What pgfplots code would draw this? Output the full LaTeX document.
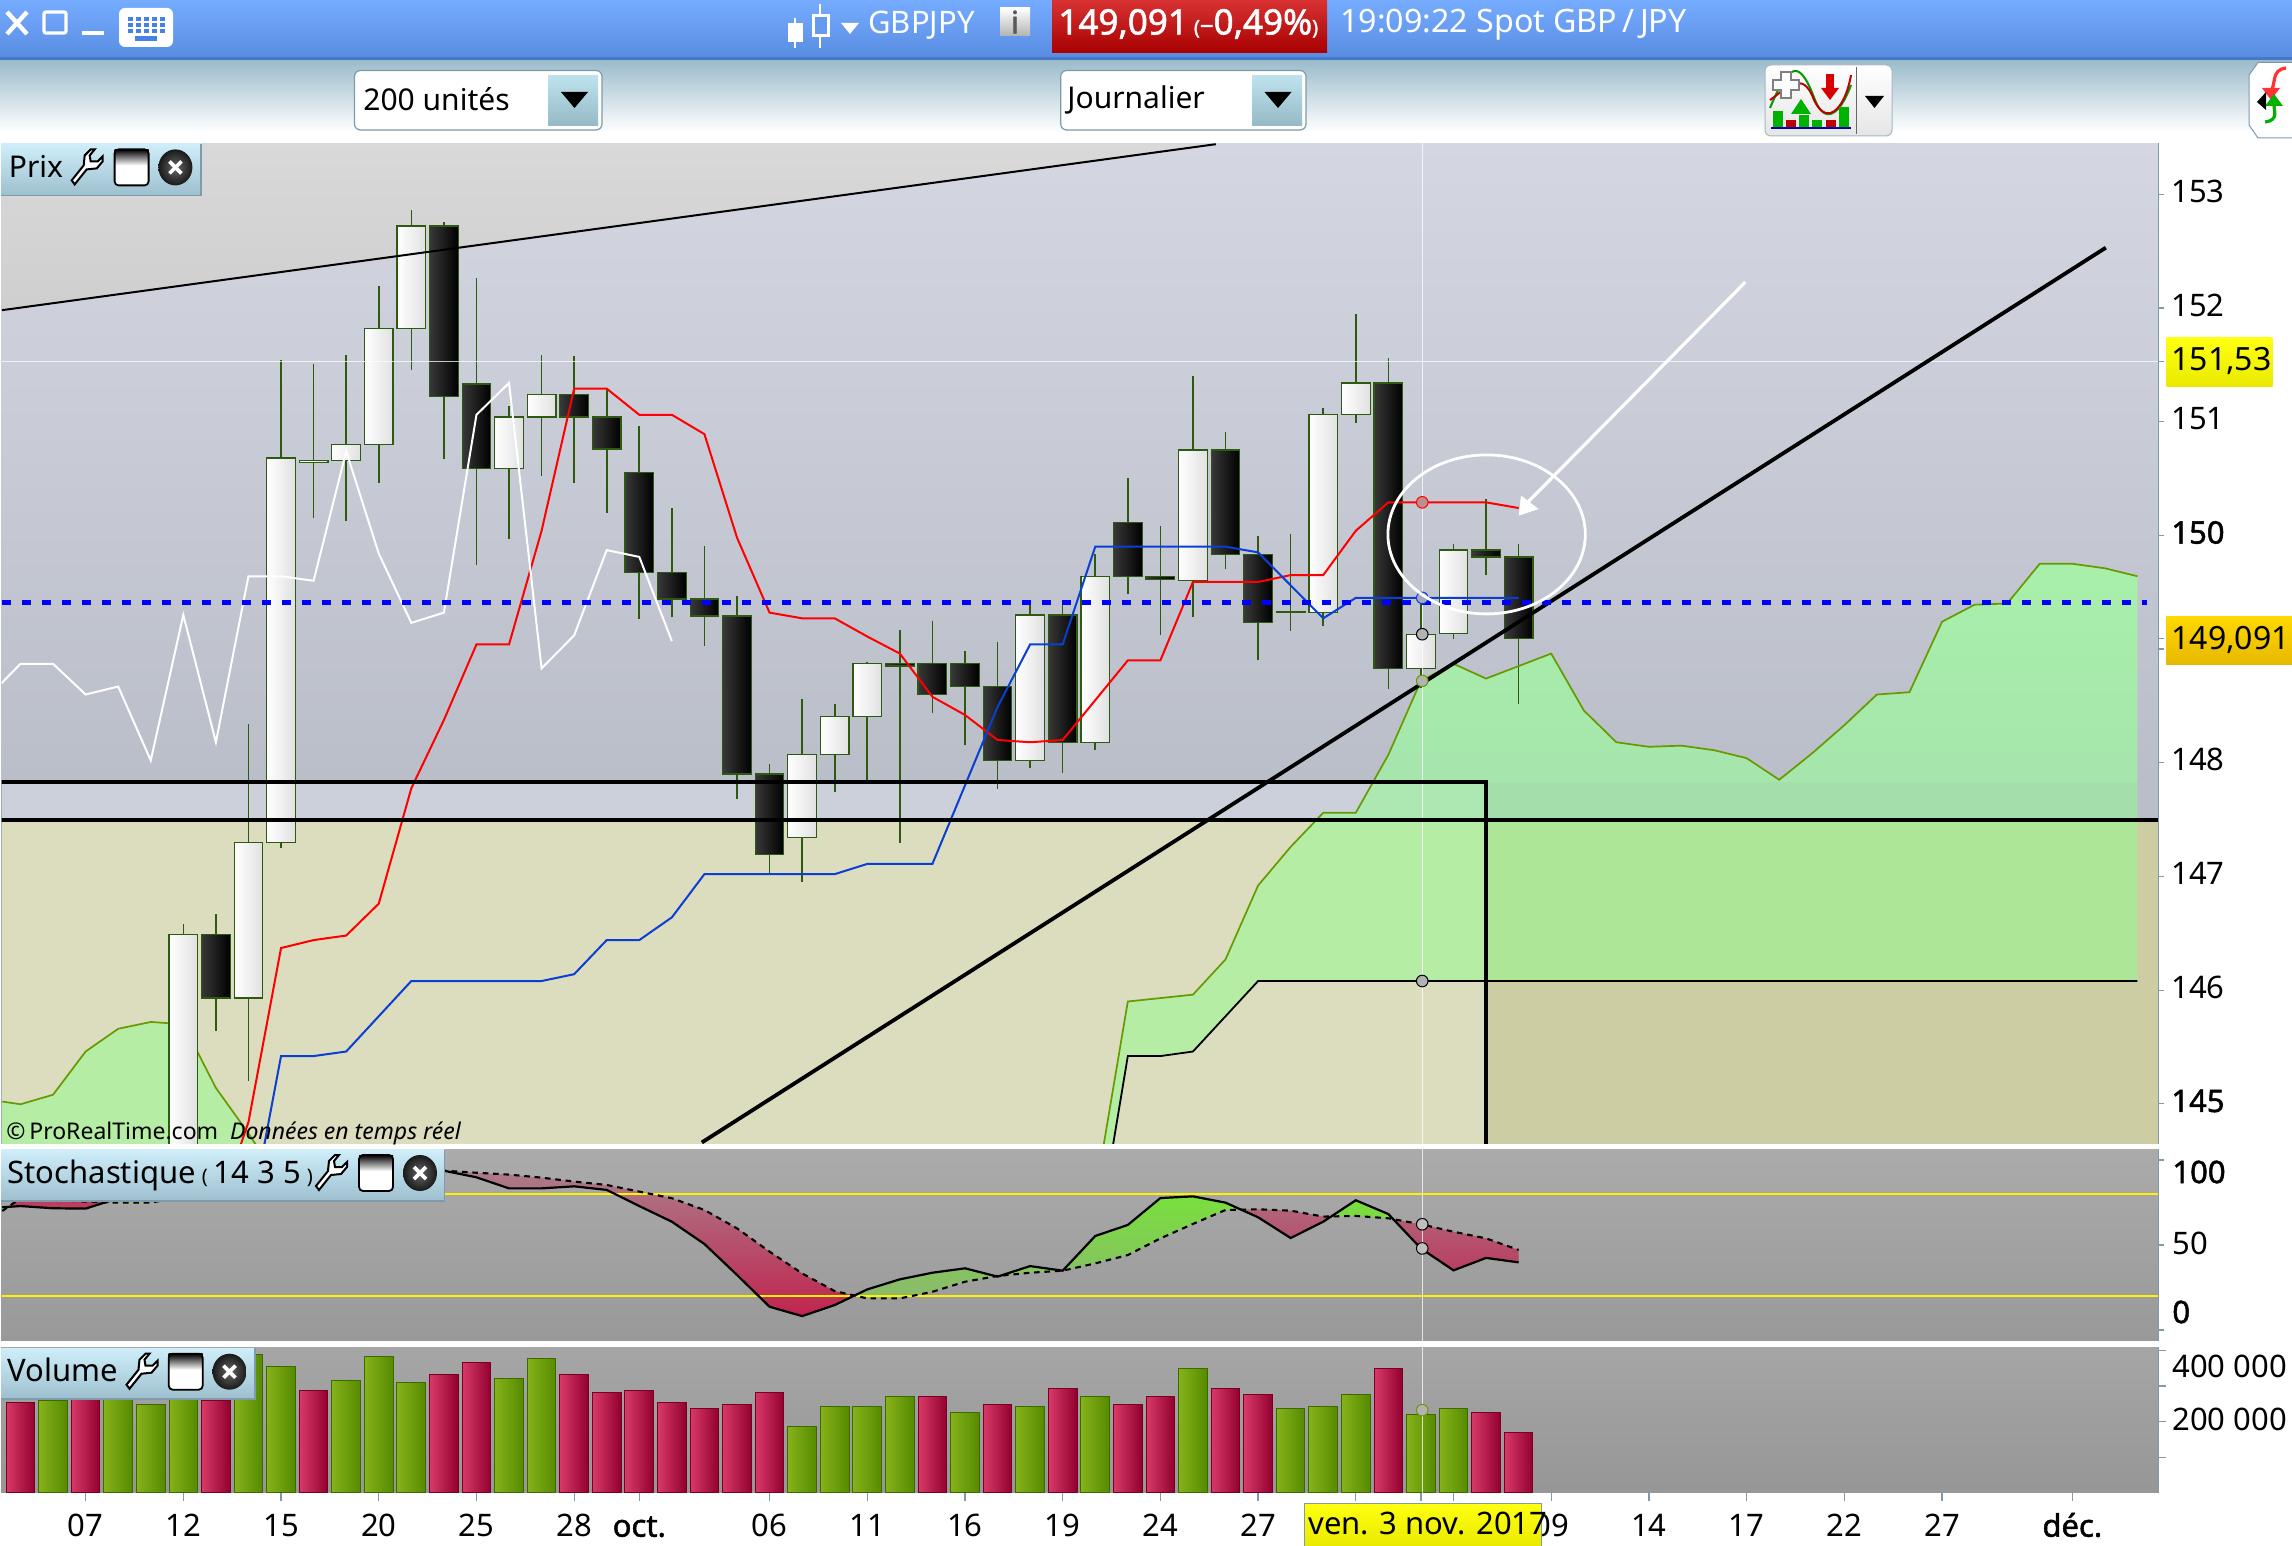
\documentclass[border=0pt]{standalone}
\usepackage{fontspec}
\setmainfont{Noto Sans}
\newfontfamily\fb{Noto Sans}[FakeBold=1.6]
\usepackage{pgfplots}
\pgfplotsset{compat=1.18}
\definecolor{wick}{HTML}{2D5A10}
\definecolor{frame}{HTML}{7F9AAB}
\definecolor{olive}{HTML}{669A00}
\definecolor{kij}{HTML}{0A3FD4}
\definecolor{bgtop}{HTML}{D4D7E1}
\definecolor{bgmid}{HTML}{BABEC9}
\definecolor{band}{HTML}{CCD0DA}
\definecolor{beigeL}{HTML}{DCDCBE}
\definecolor{beigeR}{HTML}{CDCDA3}
\definecolor{cloud}{HTML}{90FF8C}
\definecolor{cloudT}{RGB}{168,240,170}\definecolor{cloudB}{RGB}{166,229,172}
\definecolor{vgl}{HTML}{86B21A}\definecolor{vgr}{HTML}{558A00}\definecolor{vgb}{HTML}{3A6A00}
\definecolor{vrl}{HTML}{D83A68}\definecolor{vrr}{HTML}{92002F}\definecolor{vrb}{HTML}{7A0020}
\definecolor{rA}{RGB}{172,124,138}\definecolor{rB}{RGB}{192,36,78}
\definecolor{rC}{RGB}{177,100,122}\definecolor{rD}{RGB}{181,83,110}
\definecolor{rE}{RGB}{179,94,118}\definecolor{rF}{RGB}{186,62,96}
\definecolor{gA}{RGB}{120,224,60}\definecolor{gB}{RGB}{140,184,110}\definecolor{gC}{RGB}{125,214,70}
\definecolor{hTop}{RGB}{118,172,255}\definecolor{hBot}{RGB}{88,140,225}\definecolor{hLine}{RGB}{70,120,200}
\definecolor{tbTop}{RGB}{156,188,203}\definecolor{kbd}{RGB}{70,130,230}\definecolor{cInner}{RGB}{100,155,240}
\definecolor{redT}{RGB}{216,50,50}\definecolor{redB}{RGB}{168,0,0}
\definecolor{ddT}{RGB}{190,225,238}\definecolor{ddB}{RGB}{150,185,198}
\definecolor{tagT}{RGB}{207,238,250}\definecolor{tagB}{RGB}{157,191,206}
\definecolor{yelT}{RGB}{255,255,16}\definecolor{yelB}{RGB}{234,234,0}
\definecolor{ambT}{RGB}{255,217,0}\definecolor{ambB}{RGB}{232,184,0}
\newcommand{\wc}[5]{% i low high bottom top
  \addplot[wick,line width=.8pt] coordinates {(#1,#2)(#1,#3)};
  \pgfmathsetmacro\xl{#1-0.44}\pgfmathsetmacro\xr{#1+0.44}%
  \edef\tmp{\noexpand\addplot[draw=wick,line width=.6pt,left color=white,right color=black!12] coordinates {(\xl,#4)(\xl,#5)(\xr,#5)(\xr,#4)} --cycle;}\tmp}
\newcommand{\bc}[5]{%
  \addplot[wick,line width=.8pt] coordinates {(#1,#2)(#1,#3)};
  \pgfmathsetmacro\xl{#1-0.44}\pgfmathsetmacro\xr{#1+0.44}%
  \edef\tmp{\noexpand\addplot[draw=wick,line width=.6pt,left color=black!78,right color=black] coordinates {(\xl,#4)(\xl,#5)(\xr,#5)(\xr,#4)} --cycle;}\tmp}
\newcommand{\vg}[2]{\pgfmathsetmacro\xl{#1-0.44}\pgfmathsetmacro\xr{#1+0.44}%
  \edef\tmp{\noexpand\addplot[draw=vgb,line width=.5pt,left color=vgl,right color=vgr] coordinates {(\xl,0)(\xl,#2)(\xr,#2)(\xr,0)} --cycle;}\tmp}
\newcommand{\vr}[2]{\pgfmathsetmacro\xl{#1-0.44}\pgfmathsetmacro\xr{#1+0.44}%
  \edef\tmp{\noexpand\addplot[draw=vrb,line width=.5pt,left color=vrl,right color=vrr] coordinates {(\xl,0)(\xl,#2)(\xr,#2)(\xr,0)} --cycle;}\tmp}
\newcommand{\tagicons}[4]{% wrench x, window x, close x, y
  \begin{scope}[shift={(#1,#4)}]
    \draw[fill=white,draw=black,line width=1pt] (-13,17)--(-16,13)--(-4,-2)--(-3,-12)--(3,-18)--(7,-18)--(2,-12)--(3,-6)--(10,-6)--(15,-11)--(15,-6)--(9,1)--(-1,2)--cycle;
  \end{scope}
  \begin{scope}[shift={(#2,#4)}]
    \fill[white,rounded corners=2pt] (-17,-18) rectangle (17,18);
    \shade[top color=black,bottom color=white] (-17,-18) rectangle (17,-2);
    \draw[black,line width=.9pt,rounded corners=2pt] (-17,-18) rectangle (17,18);
  \end{scope}
  \begin{scope}[shift={(#3,#4)}]
    \shade[inner color=black!60,outer color=black!90] (0,0) circle [x radius=17,y radius=18];
    \draw[white,line width=1.8pt] (-6,-6)--(6,6) (-6,6)--(6,-6);
  \end{scope}}
\newcommand{\fsz}{\fontsize{15.5}{18}\selectfont}
\newcommand{\fbg}{\fontsize{16}{18}\selectfont}
\begin{document}
\begin{tikzpicture}
\path[use as bounding box] (0,0) rectangle (1146pt,-773pt);
%---------- PRICE
\begin{axis}[at={(0.75pt,-571.75pt)},anchor=south west,scale only axis,width=1078.25pt,height=500pt,
  xmin=-0.583,xmax=65.63,ymin=144.651,ymax=153.446,
  axis line style={frame,line width=.6pt},
  xtick=\empty,ytick pos=right,yticklabel pos=right,
  ytick={145,146,147,148,149,150,151,152,153},
  yticklabels={{\fb 145},146,147,148,,{\fb 150},151,152,153},
  extra y ticks={149.091,151.53},extra y tick labels={},
  tick align=outside,major tick length=3pt,tick style={frame,line width=.6pt},
  tick label style={font=\fsz,text=black},
  yticklabel style={anchor=west,xshift=3.5pt,yshift=1.4pt,inner sep=0pt},
  clip=true]
% background zones
\addplot[draw=none,top color=bgtop,bottom color=bgmid] coordinates {(-1,153.446)(66,153.446)(66,147.83)(-1,147.83)} --cycle;
\addplot[draw=none,fill=band] coordinates {(-1,147.83)(45,147.83)(45,147.497)(-1,147.497)} --cycle;
\addplot[draw=none,fill=bgmid] coordinates {(45,147.83)(66,147.83)(66,147.497)(45,147.497)} --cycle;
\addplot[draw=none,fill=beigeL] coordinates {(-1,147.497)(45,147.497)(45,144.6)(-1,144.6)} --cycle;
\addplot[draw=none,fill=beigeR] coordinates {(45,147.497)(66,147.497)(66,144.6)(45,144.6)} --cycle;
\addplot[draw=none,top color=black!15,bottom color=black!19] coordinates {(-1,153.446)(36.7,153.446)(36.7,153.44)(-0.57,151.98)(-1,151.97)} --cycle;
% cloud
\addplot[draw=none,fill=cloud,fill opacity=.5] coordinates {(-0.56,145.02)(0,144.996)(1,145.08)(2,145.46)(3,145.66)(4,145.72)(5,145.70)(6,145.14)(7,144.74)(8,144.3)(-0.56,144.3)} --cycle;
\addplot[olive,line width=.85pt] coordinates {(-0.56,145.02)(0,144.996)(1,145.08)(2,145.46)(3,145.66)(4,145.72)(5,145.70)(6,145.14)(7,144.74)(8,144.3)};
\addplot[draw=none,fill=cloud,fill opacity=.5] coordinates {(33,144.2)(34,145.90)(35,145.93)(36,145.96)(37,146.27)(38,146.92)(39,147.26)(40,147.56)(41,147.56)(42,148.07)(43,148.72)(44,148.87)(45,148.74)(46,148.85)(47,148.96)(48,148.46)(49,148.18)(50,148.14)(51,148.15)(52,148.11)(53,148.04)(54,147.85)(55,148.08)(56,148.33)(57,148.60)(58,148.62)(59,149.24)(60,149.39)(61,149.40)(62,149.75)(63,149.75)(64,149.71)(65,149.64)(65,146.08)(38,146.08)(37,145.77)(36,145.46)(35,145.42)(34,145.42)(33,143.7)} --cycle;
\addplot[draw=none,top color=cloudT,bottom color=cloudB] coordinates {(41.53,147.83)(42,148.07)(43,148.72)(44,148.87)(45,148.74)(46,148.85)(47,148.96)(48,148.46)(49,148.18)(50,148.14)(51,148.15)(52,148.11)(53,148.04)(54,147.85)(55,148.08)(56,148.33)(57,148.60)(58,148.62)(59,149.24)(60,149.39)(61,149.40)(62,149.75)(63,149.75)(64,149.71)(65,149.64)(65,147.83)} --cycle;
% candles: i low high bottom top
\wc{5}{144.3}{146.58}{144.3}{146.49}
\bc{6}{145.64}{146.67}{145.93}{146.49}
\wc{7}{145.20}{148.34}{145.93}{147.30}
\wc{8}{147.25}{151.54}{147.30}{150.68}
\wc{9}{150.15}{151.51}{150.64}{150.66}
\wc{10}{150.13}{151.59}{150.66}{150.80}
\wc{11}{150.46}{152.19}{150.80}{151.82}
\wc{12}{151.45}{152.86}{151.82}{152.72}
\bc{13}{150.67}{152.76}{151.22}{152.72}
\bc{14}{149.74}{152.26}{150.59}{151.33}
\wc{15}{149.97}{151.14}{150.59}{151.04}
\wc{16}{150.52}{151.59}{151.04}{151.24}
\bc{17}{150.46}{151.58}{151.04}{151.24}
\bc{18}{150.20}{151.29}{150.76}{151.04}
\bc{19}{149.26}{150.96}{149.67}{150.55}
\bc{20}{149.28}{150.24}{149.44}{149.67}
\bc{21}{149.03}{149.91}{149.29}{149.44}
\bc{22}{147.68}{149.47}{147.90}{149.29}
\bc{23}{147.03}{147.99}{147.19}{147.90}
\wc{24}{146.95}{148.56}{147.34}{148.07}
\wc{25}{147.74}{148.52}{148.07}{148.41}
\wc{26}{147.85}{148.89}{148.41}{148.87}
\bc{27}{147.29}{149.17}{148.85}{148.87}
\bc{28}{148.44}{149.25}{148.60}{148.87}
\bc{29}{148.16}{148.98}{148.67}{148.87}
\bc{30}{147.77}{149.06}{148.02}{148.67}
\wc{31}{147.95}{149.43}{148.02}{149.30}
\bc{32}{147.91}{149.43}{148.18}{149.30}
\wc{33}{148.11}{149.84}{148.18}{149.64}
\bc{34}{149.48}{150.50}{149.64}{150.11}
\bc{35}{149.12}{150.08}{149.61}{149.64}
\wc{36}{149.28}{151.40}{149.60}{150.75}
\bc{37}{149.70}{150.91}{149.83}{150.75}
\bc{38}{148.90}{149.99}{149.23}{149.83}
\bc{39}{149.16}{150.01}{149.32}{149.33}
\wc{40}{149.20}{151.12}{149.32}{151.06}
\wc{41}{150.99}{151.95}{151.06}{151.34}
\bc{42}{148.65}{151.56}{148.83}{151.34}
\wc{43}{148.66}{149.45}{148.83}{149.13}
\wc{44}{149.09}{149.92}{149.14}{149.87}
\bc{45}{149.65}{150.32}{149.81}{149.87}
\bc{46}{148.52}{149.92}{149.091}{149.81}
% cloud edges
\addplot[olive,line width=.85pt] coordinates {(33,144.2)(34,145.90)(35,145.93)(36,145.96)(37,146.27)(38,146.92)(39,147.26)(40,147.56)(41,147.56)(42,148.07)(43,148.72)(44,148.87)(45,148.74)(46,148.85)(47,148.96)(48,148.46)(49,148.18)(50,148.14)(51,148.15)(52,148.11)(53,148.04)(54,147.85)(55,148.08)(56,148.33)(57,148.60)(58,148.62)(59,149.24)(60,149.39)(61,149.40)(62,149.75)(63,149.75)(64,149.71)(65,149.64)};
\addplot[black,line width=.9pt] coordinates {(33,143.7)(34,145.42)(35,145.42)(36,145.46)(37,145.77)(38,146.08)(65,146.08)};
% tenkan
\addplot[red,line width=1pt] coordinates {(6,144)(7,144.84)(8,146.37)(9,146.44)(10,146.48)(11,146.76)(12,147.775)(13,148.375)(14,149.04)(15,149.04)(16,150.04)(17,151.29)(18,151.29)(19,151.06)(20,151.06)(21,150.89)(22,149.98)(23,149.32)(24,149.27)(25,149.27)(26,149.11)(27,148.96)(28,148.58)(29,148.42)(30,148.20)(31,148.18)(32,148.20)(33,148.55)(34,148.90)(35,148.90)(36,149.59)(37,149.59)(38,149.59)(39,149.65)(40,149.65)(41,150.04)(42,150.29)(43,150.29)(44,150.29)(45,150.29)(46,150.24)};
% kijun
\addplot[kij,line width=1pt] coordinates {(7,143.9)(8,145.42)(9,145.42)(10,145.46)(11,145.77)(12,146.08)(13,146.08)(14,146.08)(15,146.08)(16,146.08)(17,146.14)(18,146.44)(19,146.44)(20,146.64)(21,147.02)(22,147.02)(23,147.02)(24,147.02)(25,147.02)(26,147.11)(27,147.11)(28,147.11)(29,147.80)(30,148.49)(31,149.04)(32,149.04)(33,149.90)(34,149.90)(35,149.90)(36,149.90)(37,149.90)(38,149.85)(39,149.56)(40,149.27)(41,149.45)(42,149.45)(43,149.45)(44,149.45)(45,149.45)(46,149.45)};
% chikou
\addplot[white,line width=1pt] coordinates {(-0.58,148.70)(0,148.87)(1,148.87)(2,148.60)(3,148.67)(4,148.02)(5,149.30)(6,148.18)(7,149.64)(8,149.64)(9,149.60)(10,150.74)(11,149.84)(12,149.23)(13,149.32)(14,151.06)(15,151.34)(16,148.83)(17,149.12)(18,149.87)(19,149.81)(20,149.07)};
% crosshair
\addplot[white,opacity=.75,line width=.7pt] coordinates {(-1,151.53)(66,151.53)};
\addplot[white,opacity=.75,line width=.7pt] coordinates {(43.04,144)(43.04,154)};
% drawn lines
\addplot[black,line width=1pt] coordinates {(-0.57,151.98)(36.7,153.44)};
\addplot[black,line width=1.9pt] coordinates {(20.92,144.66)(64.03,152.53)};
\addplot[black,line width=1.8pt] coordinates {(-1,147.83)(45,147.83)(45,144.6)};
\addplot[black,line width=1.8pt] coordinates {(-1,147.497)(66,147.497)};
\addplot[blue,line width=2.2pt,dash pattern=on 4.5pt off 5.5pt] coordinates {(-0.58,149.41)(65.3,149.41)};
% cursor marks
\addplot[only marks,mark=*,mark size=2.9pt,mark options={draw=red,fill=red!25!gray!70,line width=.5pt}] coordinates {(43.04,150.29)};
\addplot[only marks,mark=*,mark size=2.9pt,mark options={draw=kij,fill=blue!15!gray!60,line width=.5pt}] coordinates {(43.04,149.45)};
\addplot[only marks,mark=*,mark size=2.9pt,mark options={draw=black,fill=gray!60,line width=.5pt}] coordinates {(43.04,149.13)(43.04,146.08)};
\addplot[only marks,mark=*,mark size=2.9pt,mark options={draw=olive,fill=gray!60,line width=.5pt}] coordinates {(43.04,148.72)};
\end{axis}
%---------- STOCHASTIC
\begin{axis}[at={(0.75pt,-670.35pt)},anchor=south west,scale only axis,width=1078.25pt,height=95.7pt,
  xmin=-0.583,xmax=65.63,ymin=-6.27,ymax=106.27,
  axis line style={frame,line width=.6pt},
  xtick=\empty,ytick pos=right,ytick={0,50,100},yticklabel=\empty,
  tick align=outside,major tick length=3pt,tick style={frame,line width=.6pt},clip=true]
\addplot[draw=none,top color=black!33,bottom color=black!40] coordinates {(-1,-7)(66,-7)(66,107)(-1,107)} --cycle;
\addplot[draw=none,top color=rA,bottom color=rB] coordinates {(13,93.7)(14,89.8)(15,83.3)(16,83.3)(17,84.5)(18,82.4)(19,72.9)(20,63.7)(21,50.6)(22,32.4)(23,13.7)(24,8.2)(25,14.7)(25.61,20.3)(25,22.9)(24,33.3)(23,46.1)(22,59.8)(21,70.6)(20,77.5)(19,81.4)(18,85.3)(17,87.3)(16,89.6)(15,91.4)(14,92.5)} --cycle;
\addplot[draw=none,top color=gA,bottom color=gB] coordinates {(25.61,20.3)(26,23.9)(27,29.8)(28,33.7)(29,36.3)(30,31.4)(31,37.6)(32,34.9)(33,55.3)(34,61.8)(35,77.6)(36,78.6)(37,74.9)(37.48,70.8)(37,70.6)(36,62.4)(35,53.9)(34,44.1)(33,39.2)(32,34.9)(31,33.7)(30,31.8)(29,28.4)(28,22.5)(27,18.6)(26,18.6)} --cycle;
\addplot[draw=none,top color=rC,bottom color=rD] coordinates {(37.48,70.8)(38,66.3)(39,54.1)(40,63.7)(40.24,66.7)(40,66.7)(39,70.2)(38,71)} --cycle;
\addplot[draw=none,top color=gA,bottom color=gC] coordinates {(40.24,66.7)(41,76.3)(42,68.2)(42.15,65.2)(42,65.7)(41,67.1)} --cycle;
\addplot[draw=none,top color=rE,bottom color=rF] coordinates {(42.15,65.2)(43,48)(44,35.1)(45,42.4)(46,39.8)(46,47.1)(45,53.9)(44,57.8)(43,62.2)} --cycle;
\addplot[draw=none,fill=rF] coordinates {(-0.37,72.5)(0,72.9)(1,71.6)(2,71.4)(2.61,75.1)(2,75.5)(1,76.5)(0,77.5)} --cycle;
\addplot[draw=none,fill=gC] coordinates {(-0.56,72.2)(-0.37,72.5)(-0.56,70)} --cycle;
\addplot[draw=none,fill=gC] coordinates {(2.61,75.1)(3,77.5)(4,82.4)(5,88.2)(6,92.2)(7,94.1)(8,96.1)(9,97.1)(10,98)(11,98)(12,97.1)(13,93.7)(12,96.1)(11,97.1)(10,96.5)(9,95.1)(8,92.2)(7,88.2)(6,83.3)(5,78.4)(4,74.9)(3,74.9)} --cycle;
\addplot[yellow,line width=1pt] coordinates {(-1,80)(66,80)};
\addplot[yellow,line width=1pt] coordinates {(-1,20)(66,20)};
\addplot[black,line width=1.1pt] coordinates {(-0.56,72.2)(0,72.9)(1,71.6)(2,71.4)(3,77.5)(4,82.4)(5,88.2)(6,92.2)(7,94.1)(8,96.1)(9,97.1)(10,98)(11,98)(12,97.1)(13,93.7)(14,89.8)(15,83.3)(16,83.3)(17,84.5)(18,82.4)(19,72.9)(20,63.7)(21,50.6)(22,32.4)(23,13.7)(24,8.2)(25,14.7)(26,23.9)(27,29.8)(28,33.7)(29,36.3)(30,31.4)(31,37.6)(32,34.9)(33,55.3)(34,61.8)(35,77.6)(36,78.6)(37,74.9)(38,66.3)(39,54.1)(40,63.7)(41,76.3)(42,68.2)(43,48.0)(44,35.1)(45,42.4)(46,39.8)};
\addplot[black,line width=1.05pt,dash pattern=on 2.8pt off 2.4pt] coordinates {(-0.56,70)(0,77.5)(1,76.5)(2,75.5)(3,74.9)(4,74.9)(5,78.4)(6,83.3)(7,88.2)(8,92.2)(9,95.1)(10,96.5)(11,97.1)(12,96.1)(13,93.7)(14,92.5)(15,91.4)(16,89.6)(17,87.3)(18,85.3)(19,81.4)(20,77.5)(21,70.6)(22,59.8)(23,46.1)(24,33.3)(25,22.9)(26,18.6)(27,18.6)(28,22.5)(29,28.4)(30,31.8)(31,33.7)(32,34.9)(33,39.2)(34,44.1)(35,53.9)(36,62.4)(37,70.6)(38,71)(39,70.2)(40,66.7)(41,67.1)(42,65.7)(43,62.2)(44,57.8)(45,53.9)(46,47.1)};
\addplot[white,opacity=.75,line width=.7pt] coordinates {(43.04,-7)(43.04,107)};
\addplot[only marks,mark=*,mark size=2.9pt,mark options={draw=black,fill=gray!50,line width=.5pt}] coordinates {(43.04,62.2)(43.04,48)};
\end{axis}
%---------- VOLUME
\begin{axis}[at={(0.75pt,-746.35pt)},anchor=south west,scale only axis,width=1078.25pt,height=72.5pt,
  xmin=-0.583,xmax=65.63,ymin=0,ymax=407300,
  axis line style={frame,line width=.6pt},scaled y ticks=false,
  ytick pos=right,ytick={100000,200000,300000,400000},yticklabel=\empty,
  xtick pos=bottom,
  xtick={2,5,8,11,14,17,19,23,26,29,32,35,38,41,43,44,47,50,53,56,59,63},
  xticklabels={07,12,15,20,25,28,{\fb oct.},06,11,16,19,24,27,,,,09,14,17,22,27,{\fb déc.}},
  tick align=outside,major tick length=4pt,tick style={frame,line width=.6pt},
  tick label style={font=\fsz,text=black},
  xticklabel style={anchor=base,yshift=-18pt,inner sep=0pt},
  clip=true]
\addplot[draw=none,top color=black!35,bottom color=black!41] coordinates {(-1,0)(66,0)(66,407300)(-1,407300)} --cycle;
\vr{0}{254000}\vg{1}{259000}\vr{2}{262000}\vg{3}{262000}\vg{4}{248000}\vg{5}{264000}\vr{6}{259000}
\vg{7}{389000}\vg{8}{355000}\vr{9}{287000}\vg{10}{315000}\vg{11}{383000}\vg{12}{310000}\vr{13}{332000}
\vr{14}{366000}\vg{15}{321000}\vg{16}{377000}\vr{17}{332000}\vr{18}{282000}\vr{19}{287000}\vr{20}{254000}
\vr{21}{237000}\vr{22}{248000}\vr{23}{282000}\vg{24}{186000}\vg{25}{242000}\vg{26}{242000}\vg{27}{271000}
\vr{28}{271000}\vg{29}{226000}\vr{30}{248000}\vg{31}{242000}\vr{32}{293000}\vg{33}{271000}\vr{34}{248000}
\vr{35}{271000}\vg{36}{349000}\vr{37}{293000}\vr{38}{276000}\vg{39}{237000}\vg{40}{242000}\vg{41}{276000}
\vr{42}{349000}\vg{43}{220000}\vg{44}{237000}\vr{45}{226000}\vr{46}{169000}
\addplot[white,opacity=.75,line width=.7pt] coordinates {(43.04,0)(43.04,408000)};
\addplot[only marks,mark=*,mark size=2.9pt,mark options={draw=olive,fill=gray!60,line width=.5pt}] coordinates {(43.04,232000)};
\end{axis}
%---------- CHROME (pixel coordinates of the reference)
\begin{scope}[x=.5pt,y=-.5pt]
% title bar
\shade[top color=hTop,bottom color=hBot] (0,0) rectangle (2292,58);
\fill[hLine] (0,57) rectangle (2292,60);
\shade[top color=tbTop,bottom color=white] (0,61) rectangle (2292,132);
% window controls
\draw[white,line width=2.2pt] (7,12)--(27,34) (27,12)--(7,34);
\draw[white,line width=1.6pt,rounded corners=1pt] (44,12) rectangle (66,33);
\draw[white,line width=2pt] (82,33)--(104,33);
\fill[white,rounded corners=3pt] (119,8) rectangle (173,47);
\foreach \yy in {17,23,29}{\foreach \xx in {128,136,144,152,160}{\fill[kbd] (\xx,\yy) rectangle ++(5,4);}}
\fill[kbd] (135,36) rectangle (157,41);
% candle icon
\draw[white,line width=1.2pt] (795,18)--(795,48) (820,4)--(820,48);
\fill[white] (788,23) rectangle (803,42);
\fill[white] (812,14) rectangle (830,37);
\fill[cInner] (815,17) rectangle (827,34);
\fill[white] (841,23)--(859,23)--(850,34)--cycle;
\node[anchor=west,text=white,inner sep=0pt] at (868,25) {\fsz GBPJPY};
\shade[top color=white,bottom color=black!30] (1000,8) rectangle (1030,36);
\node[text=black!65,inner sep=0pt] at (1015,22) {\fsz{\fb i}};
\shade[top color=redT,bottom color=redB] (1052,0) rectangle (1327,53);
\node[anchor=west,text=white,inner sep=0pt] at (1058,24) {\fontsize{17.5}{20}\selectfont\fb 149,091\hspace{3pt}{\fontsize{10}{12}\selectfont(}{\fontsize{12}{14}\selectfont−}0,49\%{\fontsize{10}{12}\selectfont)}};
\node[anchor=west,text=white,inner sep=0pt] at (1340,25) {\fontsize{16.1}{18}\selectfont 19:09:22 Spot GBP\,/\,JPY};
% dropdowns
\draw[frame,fill=white,line width=.6pt,rounded corners=3pt] (354.5,70.5) rectangle (602,130);
\shade[top color=ddT,bottom color=ddB] (548,76) rectangle (598,126);
\fill[black] (561,92)--(588,92)--(574.5,108)--cycle;
\node[anchor=west,inner sep=0pt] at (363,99.5) {\fontsize{15}{18}\selectfont 200 unités};
\draw[frame,fill=white,line width=.6pt,rounded corners=3pt] (1060.7,70.5) rectangle (1306,130);
\shade[top color=ddT,bottom color=ddB] (1252,76) rectangle (1302,126);
\fill[black] (1264.5,92)--(1291.5,92)--(1278,108)--cycle;
\node[anchor=west,inner sep=0pt] at (1067,99.5) {\fontsize{15}{18}\selectfont Journalier};
% indicator button
\draw[frame!70,top color=white,bottom color=black!10,line width=.5pt,rounded corners=3pt] (1765,65) rectangle (1892,136);
\draw[black!60,line width=.6pt] (1856.5,67)--(1856.5,134);
\fill[black] (1865,96)--(1884,96)--(1874.5,108)--cycle;
\draw[green!60!black,line width=1pt] (1770,108) .. controls (1790,60) and (1800,60) .. (1815,100) .. controls (1825,125) and (1840,115) .. (1851,85);
\draw[red!75!black,line width=1pt] (1770,100) .. controls (1785,90) and (1800,70) .. (1812,95) .. controls (1825,130) and (1845,110) .. (1851,75);
\draw[black!50,fill=white,line width=.6pt] (1781,72)--(1791,72)--(1791,80)--(1799,80)--(1799,90)--(1791,90)--(1791,98)--(1781,98)--(1781,90)--(1773,90)--(1773,80)--(1781,80)--cycle;
\fill[green!70!black] (1801,99)--(1811,114)--(1791,114)--cycle;
\fill[red!85!black] (1826,74) rectangle (1834,90);\fill[red!85!black] (1821,88)--(1839,88)--(1830,100)--cycle;
\fill[green!70!black] (1773,127) rectangle ++(10,-16);
\fill[red!75!black] (1786,127) rectangle ++(10,-7);
\fill[green!70!black] (1799,127) rectangle ++(10,-12);
\fill[green!70!black] (1812,127) rectangle ++(10,-7);
\fill[red!75!black] (1826,127) rectangle ++(10,-7);
\fill[green!70!black] (1839,127) rectangle ++(10,-20);
\fill[blue!70!black] (1771,127) rectangle (1851,129);
% right edge icon
\draw[frame,fill=white,line width=.5pt] (2292,62.5)--(2258,62.5)--(2249,75)--(2249,125)--(2258,138)--(2292,138);
\draw[red!80,line width=1.6pt] (2286,68) .. controls (2270,70) and (2277,85) .. (2270,92);
\fill[red!80] (2262,88)--(2280,88)--(2271,100)--cycle;
\draw[green!70!black,line width=1.6pt] (2265,122) .. controls (2280,120) and (2273,110) .. (2274,102);
\fill[green!70!black] (2265,106)--(2283,106)--(2274,94)--cycle;
\fill[black] (2257,102)--(2266,92)--(2266,110)--cycle;
% price tag
\shade[top color=tagT,bottom color=tagB] (1,144) rectangle (201,195.5);
\draw[frame,line width=.6pt] (201,144)--(201,195.5)--(1,195.5);
\node[anchor=west,inner sep=0pt] at (8.5,166) {\fontsize{15}{18}\selectfont Prix};
\tagicons{87.7}{131.6}{175.4}{167.4}
% stochastic tag
\shade[top color=tagT,bottom color=tagB] (1,1149.5) rectangle (444.4,1201);
\draw[frame,line width=.6pt] (444.4,1149.5)--(444.4,1201)--(1,1201);
\node[anchor=west,inner sep=0pt] at (7.3,1175) {\fsz Stochastique\hspace{3pt}{\fontsize{10}{12}\selectfont(}\hspace{3pt}14 3 5\hspace{3pt}{\fontsize{10}{12}\selectfont)}};
\tagicons{332}{376}{420}{1173}
% volume tag
\shade[top color=tagT,bottom color=tagB] (1,1348) rectangle (255,1399);
\draw[frame,line width=.6pt] (255,1348)--(255,1399)--(1,1399);
\node[anchor=west,inner sep=0pt] at (7.3,1370) {\fsz Volume};
\tagicons{142.5}{185.7}{229.5}{1371.7}
% copyright
\node[anchor=west,inner sep=0pt] at (6,1133) {\fontsize{11.5}{13}\selectfont ©\,ProRealTime.com\hspace{6pt}\textit{Données en temps réel}};
% drawn annotation
\draw[white,line width=1.4pt] (1486.6,534.4) ellipse [x radius=98.7,y radius=79.5];
\draw[white,line width=1.6pt] (1745.4,282)--(1527,503);
\fill[white] (1518.8,515.6)--(1521,495.5)--(1538.5,509)--cycle;
% price boxes
\shade[top color=yelT,bottom color=yelB] (2166.5,338) rectangle (2272.5,386);
\node[anchor=west,inner sep=0pt] at (2171,361) {\fbg 151,53};
\shade[top color=ambT,bottom color=ambB] (2166,616) rectangle (2292,664);
\node[anchor=west,inner sep=0pt] at (2171,639.5) {\fbg 149,091};
% lower scale labels
\node[anchor=west,inner sep=0pt] at (2172,1172) {\fsz\fb 100};
\node[anchor=west,inner sep=0pt] at (2172,1243) {\fsz 50};
\node[anchor=west,inner sep=0pt] at (2172,1312) {\fsz\fb 0};
\node[anchor=west,inner sep=0pt] at (2172,1366) {\fsz 400 000};
\node[anchor=west,inner sep=0pt] at (2172,1419) {\fsz 200 000};
% date box
\shade[top color=yelT,bottom color=yelB] (1304,1503) rectangle (1541,1546);
\draw[frame,line width=.5pt] (1304,1546)--(1304,1503)--(1541,1503)--(1541,1546);
\node[anchor=west,inner sep=0pt] at (1308,1523) {\fsz ven. 3 nov. 2017};
\end{scope}
\end{tikzpicture}
\end{document}
